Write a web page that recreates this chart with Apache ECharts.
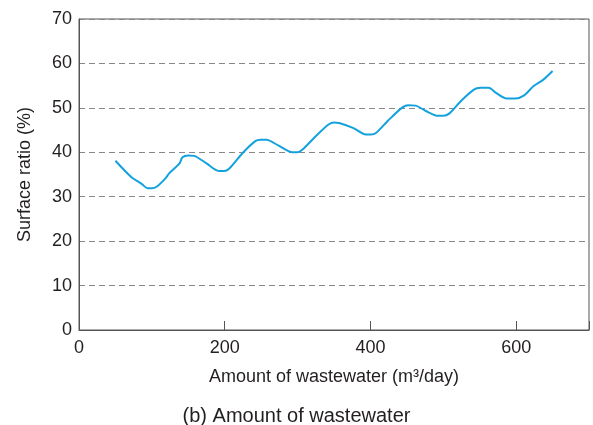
<!DOCTYPE html>
<html>
<head>
<meta charset="utf-8">
<script src="https://cdn.jsdelivr.net/npm/echarts@6/dist/echarts.min.js"></script>
<style>
html,body{margin:0;padding:0;background:#fff;}
#chart{width:593px;height:425px;}
</style>
</head>
<body>
<div id="chart"></div>
<script>
var wastewater = [50, 72, 86, 94, 100, 107, 118, 124, 138, 142, 150, 158, 175, 192, 199, 206, 225, 242, 249, 257, 274, 293, 300, 306, 326, 343, 350, 357, 376, 394, 401, 408, 424, 444, 452, 462, 475, 493, 500, 508, 524, 542, 551, 562, 573, 587, 599, 611, 624, 637, 650];
var surfaceRatio = [38.1, 34.4, 32.9, 31.9, 31.9, 32.3, 34.0, 35.3, 37.5, 38.9, 39.3, 39.2, 37.5, 35.8, 35.8, 36.3, 39.9, 42.5, 42.8, 42.8, 41.5, 40.0, 40.0, 40.5, 43.8, 46.3, 46.7, 46.6, 45.5, 44.0, 44.0, 44.4, 47.1, 50.1, 50.6, 50.5, 49.4, 48.2, 48.2, 48.7, 51.5, 54.1, 54.5, 54.5, 53.3, 52.1, 52.1, 52.8, 54.9, 56.3, 58.3];
var xTicks = [0, 200, 400, 600];
var yTicks = [0, 10, 20, 30, 40, 50, 60, 70];
var xTitle = 'Amount of wastewater (m³/day)';
var yTitle = 'Surface ratio (%)';
var caption = '(b) Amount of wastewater';

var points = wastewater.map(function (x, i) { return [x, surfaceRatio[i]]; });
var font = 'Liberation Sans, Arial, Helvetica, sans-serif';
var textColor = '#231f20';
var chart = echarts.init(document.getElementById('chart'), null, {renderer: 'canvas'});
chart.setOption({
  animation: false,
  backgroundColor: '#fff',
  title: {
    text: caption,
    left: 'center',
    top: 401,
    textStyle: {fontFamily: font, fontSize: 20, fontWeight: 'normal', color: textColor}
  },
  grid: {
    left: 79, right: 4, top: 19, bottom: 95,
    show: true, borderColor: '#555', borderWidth: 1, backgroundColor: 'transparent'
  },
  xAxis: {
    type: 'value', min: 0, max: 700, interval: 200,
    name: xTitle, nameLocation: 'middle', nameGap: 38,
    nameTextStyle: {fontFamily: font, fontSize: 18, color: textColor, verticalAlign: 'top'},
    axisLine: {show: true, lineStyle: {color: '#555', width: 1}},
    axisTick: {show: true, inside: true, length: 9, lineStyle: {color: '#555', width: 1}},
    axisLabel: {
      fontFamily: font, fontSize: 18, color: textColor, margin: 9,
      formatter: function (v) { return xTicks.indexOf(v) >= 0 ? String(v) : ''; }
    },
    splitLine: {show: false}
  },
  yAxis: {
    type: 'value', min: 0, max: 70, interval: 10,
    name: yTitle, nameLocation: 'middle', nameGap: 45, nameRotate: 90,
    nameTextStyle: {fontFamily: font, fontSize: 18, color: textColor},
    axisLine: {show: true, lineStyle: {color: '#555', width: 1}},
    axisTick: {show: false},
    axisLabel: {
      fontFamily: font, fontSize: 18, color: textColor, margin: 7,
      formatter: function (v) { return yTicks.indexOf(v) >= 0 ? String(v) : ''; }
    },
    splitLine: {show: true, lineStyle: {color: '#888', type: [6, 4], width: 1}}
  },
  series: [{
    type: 'line',
    data: points,
    smooth: 0.3,
    showSymbol: false,
    symbol: 'none',
    lineStyle: {color: '#14a2de', width: 2},
    z: 3
  }]
});
</script>
</body>
</html>
